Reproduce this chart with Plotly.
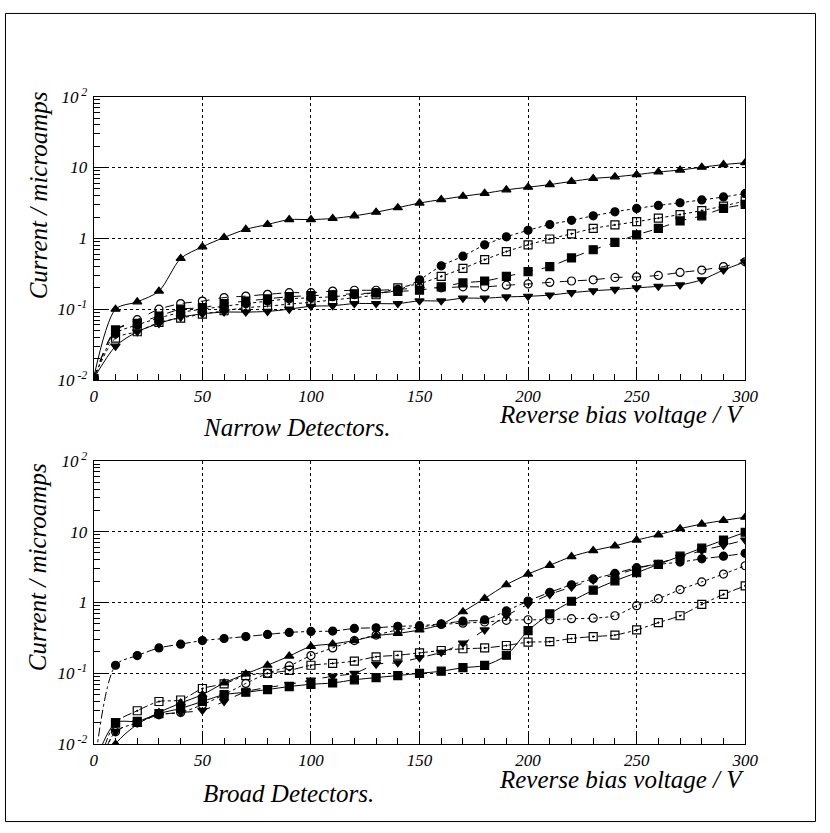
import plotly.graph_objects as go

W, H = 830, 833

voltage = list(range(0, 301, 10))

# ---- Narrow detectors (top panel) ----
n_tri_up = [0.011, 0.10, 0.127, 0.18, 0.52, 0.76, 1.03, 1.34, 1.57, 1.84, 1.84, 1.91, 2.08, 2.34, 2.71, 3.15,
            3.53, 3.93, 4.32, 4.84, 5.27, 5.74, 6.37, 7.0, 7.39, 7.94, 8.65, 9.22, 10.1, 11.0, 11.7]
n_circ_fill = [0.0105, 0.045, 0.06, 0.075, 0.09, 0.10, 0.11, 0.12, 0.13, 0.14, 0.145, 0.15, 0.16, 0.17, 0.185, 0.26,
               0.41, 0.56, 0.81, 1.05, 1.3, 1.57, 1.8, 2.08, 2.37, 2.65, 2.92, 3.18, 3.49, 3.84, 4.31]
n_sq_open = [0.0105, 0.039, 0.048, 0.065, 0.075, 0.085, 0.095, 0.105, 0.11, 0.118, 0.125, 0.135, 0.145, 0.16, 0.20, 0.23,
             0.29, 0.377, 0.5, 0.65, 0.81, 0.98, 1.16, 1.38, 1.55, 1.72, 1.93, 2.17, 2.47, 2.86, 3.38]
n_sq_fill = [0.0105, 0.051, 0.063, 0.08, 0.10, 0.105, 0.12, 0.13, 0.14, 0.15, 0.155, 0.16, 0.165, 0.17, 0.178, 0.186,
             0.207, 0.235, 0.25, 0.29, 0.34, 0.40, 0.53, 0.69, 0.875, 1.12, 1.38, 1.76, 2.08, 2.65, 3.01]
n_circ_open = [0.0105, 0.05, 0.071, 0.10, 0.12, 0.13, 0.146, 0.153, 0.162, 0.171, 0.171, 0.18, 0.185, 0.185, 0.19, 0.20,
               0.20, 0.207, 0.207, 0.218, 0.227, 0.239, 0.25, 0.26, 0.28, 0.286, 0.30, 0.33, 0.357, 0.40, 0.466]
n_tri_down = [0.0105, 0.03, 0.048, 0.063, 0.077, 0.086, 0.091, 0.091, 0.093, 0.10, 0.11, 0.112, 0.12, 0.12, 0.12, 0.131,
              0.131, 0.143, 0.143, 0.149, 0.152, 0.158, 0.171, 0.182, 0.19, 0.20, 0.21, 0.22, 0.26, 0.357, 0.466]

# ---- Broad detectors (bottom panel) ----
b_tri_up = [0.002, 0.01, 0.019, 0.028, 0.038, 0.05, 0.073, 0.098, 0.13, 0.175, 0.24, 0.26, 0.29, 0.34, 0.366, 0.41,
            0.49, 0.74, 1.14, 1.78, 2.52, 3.35, 4.45, 5.4, 6.3, 7.6, 9.0, 11.0, 12.8, 14.4, 16.0]
b_sq_fill = [0.005, 0.02, 0.021, 0.027, 0.032, 0.04, 0.05, 0.054, 0.059, 0.065, 0.07, 0.073, 0.081, 0.087, 0.093, 0.10,
             0.107, 0.12, 0.129, 0.18, 0.40, 0.69, 1.04, 1.49, 2.02, 2.63, 3.45, 4.5, 5.85, 7.6, 9.8]
b_circ_fill = [0.004, 0.13, 0.178, 0.228, 0.258, 0.29, 0.31, 0.33, 0.354, 0.378, 0.39, 0.395, 0.43, 0.44, 0.46, 0.47,
               0.50, 0.545, 0.57, 0.76, 1.05, 1.39, 1.78, 2.15, 2.57, 3.1, 3.45, 3.72, 4.13, 4.5, 4.94]
b_circ_open = [0.003, 0.015, 0.02, 0.026, 0.028, 0.036, 0.05, 0.072, 0.10, 0.127, 0.178, 0.228, 0.29, 0.347, 0.41, 0.45,
               0.49, 0.51, 0.53, 0.56, 0.57, 0.57, 0.59, 0.60, 0.65, 0.90, 1.13, 1.52, 1.95, 2.52, 3.3]
b_sq_open = [0.003, 0.02, 0.0296, 0.04, 0.042, 0.061, 0.071, 0.093, 0.10, 0.11, 0.13, 0.138, 0.149, 0.171, 0.18, 0.194,
             0.21, 0.222, 0.228, 0.247, 0.275, 0.28, 0.31, 0.33, 0.347, 0.41, 0.52, 0.65, 0.94, 1.3, 1.72]
b_tri_down = [0.003, 0.015, 0.02, 0.026, 0.028, 0.03, 0.04, 0.055, 0.063, 0.07, 0.08, 0.091, 0.10, 0.134, 0.141, 0.166,
              0.198, 0.266, 0.41, 0.65, 0.94, 1.3, 1.65, 2.08, 2.44, 3.0, 3.6, 4.35, 5.4, 6.4, 7.6]

y_tickvals = [0.01, 0.1, 1, 10, 100]
y_ticktext = ["10<sup> -2</sup>", "10<sup> -1</sup>", "1", "10", "10<sup> 2</sup>"]
x_tickvals = [0, 50, 100, 150, 200, 250, 300]
x_ticktext = ["0", "50", "100", "150", "200", "250", "300"]

FONT = "Liberation Serif, Times New Roman, serif"

top_series = [
    (n_tri_up, "triangle-up", "solid"),
    (n_circ_fill, "circle", "dot"),
    (n_sq_open, "square-open-dot", "dot"),
    (n_sq_fill, "square", "dash"),
    (n_circ_open, "circle-open", "dash"),
    (n_tri_down, "triangle-down", "solid"),
]
bottom_series = [
    (b_tri_up, "triangle-up", "solid"),
    (b_sq_fill, "square", "solid"),
    (b_circ_fill, "circle", "dashdot"),
    (b_circ_open, "circle-open", "dot"),
    (b_sq_open, "square-open-dot", "dashdot"),
    (b_tri_down, "triangle-down", "dash"),
]

fig = go.Figure()


def add_series(series, xa, ya):
    for vals, sym, dash in series:
        fig.add_trace(go.Scatter(
            x=voltage, y=vals, mode="lines+markers", xaxis=xa, yaxis=ya,
            line=dict(color="black", width=1, dash=dash, shape="spline", smoothing=0.8),
            marker=dict(symbol=sym, size=8, color="black",
                        line=dict(color="black", width=1.2)),
            showlegend=False, hoverinfo="skip"))


add_series(top_series, "x", "y")
add_series(bottom_series, "x2", "y2")


def px_x(p):
    return p / W


def px_y(p):
    return 1 - p / H


minor_y = [m * 10 ** e for e in range(-2, 2) for m in range(2, 10)]
tickfont = dict(family=FONT, size=17, color="black")

xax = dict(range=[0, 300], domain=[px_x(91.7), px_x(756.7)],
           tickmode="array", tickvals=x_tickvals, ticktext=["<i>%s</i>" % t for t in x_ticktext],
           ticks="inside", ticklen=12, tickwidth=1, tickcolor="black",
           minor=dict(tickmode="array", tickvals=list(range(0, 301, 10)), ticks="inside",
                      ticklen=6, tickwidth=1, tickcolor="black", showgrid=False),
           showline=True, linecolor="black", linewidth=1.2, mirror=True,
           showgrid=True, gridcolor="black", griddash="dot", gridwidth=1,
           zeroline=False, ticklabelstandoff=0,
           tickfont=tickfont)

yax = dict(type="log", range=[-2, 2],
           tickmode="array", tickvals=y_tickvals, ticktext=["<i>%s</i>" % t for t in y_ticktext],
           ticks="inside", ticklen=12, tickwidth=1, tickcolor="black",
           minor=dict(tickmode="array", tickvals=minor_y, ticks="inside", ticklen=6,
                      tickwidth=1, tickcolor="black", showgrid=False),
           showline=True, linecolor="black", linewidth=1.2, mirror=True,
           showgrid=True, gridcolor="black", griddash="dot", gridwidth=1,
           zeroline=False, ticklabelstandoff=2,
           tickfont=tickfont)

fig.update_layout(
    width=W, height=H,
    margin=dict(l=0, r=0, t=0, b=0),
    paper_bgcolor="white", plot_bgcolor="white",
    font=dict(family=FONT, color="black"),
    xaxis=dict(xax, anchor="y"),
    yaxis=dict(yax, domain=[px_y(378), px_y(87)], anchor="x"),
    xaxis2=dict(xax, anchor="y2"),
    yaxis2=dict(yax, domain=[px_y(752), px_y(461)], anchor="x2"),
)

ann_font = dict(family=FONT, size=25, color="black")
annotations = [
    dict(text="<i>Current / microamps</i>", x=px_x(35), y=px_y(188), textangle=-90),
    dict(text="<i>Current / microamps</i>", x=px_x(35), y=px_y(570), textangle=-90),
    dict(text="<i>Reverse bias voltage / V</i>", x=px_x(758), y=px_y(413), xanchor="right"),
    dict(text="<i>Reverse bias voltage / V</i>", x=px_x(758), y=px_y(788), xanchor="right"),
    dict(text="<i>Narrow Detectors.</i>", x=px_x(201), y=px_y(427), xanchor="left"),
    dict(text="<i>Broad Detectors.</i>", x=px_x(201), y=px_y(803), xanchor="left"),
]
for a in annotations:
    a.update(xref="paper", yref="paper", showarrow=False, font=ann_font)
    a.setdefault("xanchor", "center")
    a.setdefault("yanchor", "middle")
fig.update_layout(annotations=annotations)

fig.add_shape(type="rect", xref="paper", yref="paper",
              x0=px_x(1.5), x1=px_x(828.5), y0=px_y(831.5), y1=px_y(1.5),
              line=dict(color="black", width=1))

fig.write_html("out.html")
